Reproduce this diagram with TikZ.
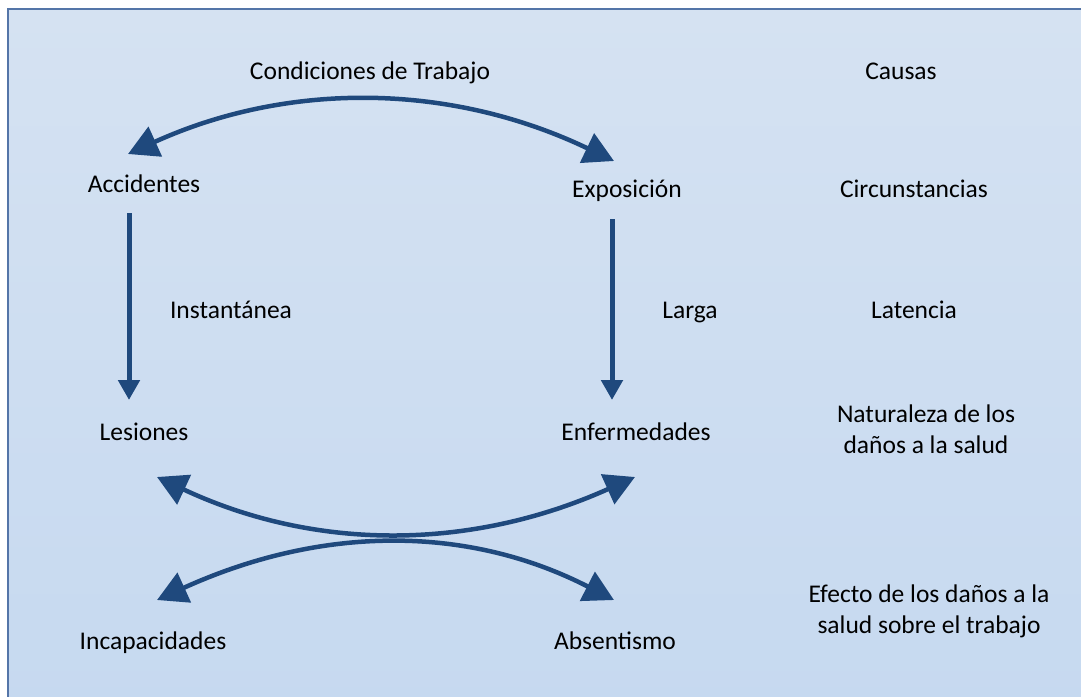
\documentclass[tikz,border=0pt]{standalone}
\usepackage{fontspec}
\setmainfont{Carlito}
\usetikzlibrary{arrows.meta}

\definecolor{arrowblue}{RGB}{31,73,125}
\definecolor{framecol}{RGB}{84,117,168}
\definecolor{bgtop}{RGB}{213,226,242}
\definecolor{bgbottom}{RGB}{198,217,240}

\tikzset{
  lbl/.style={anchor=base, inner sep=0pt, font=\fontsize{25.5}{31}\selectfont},
  lbltwo/.style={lbl, align=center},
  bendarrow/.style={draw=arrowblue, line width=4.5pt,
    {Triangle[length=30pt,width=32pt]}-{Triangle[length=30pt,width=32pt]}},
  downarrow/.style={draw=arrowblue, line width=5pt,
    -{Triangle[length=20pt,width=21pt]}}
}

\begin{document}
\begin{tikzpicture}[x=1pt, y=-1pt]
  \useasboundingbox (0,0) rectangle (1081,696);
  \clip (0,0) rectangle (1081,696);
  % Background panel
  \shade[top color=bgtop, bottom color=bgbottom] (8,9) rectangle (1095,710);
  \draw[framecol, line width=1.5pt] (8,710) -- (8,9) -- (1095,9);

  % Define nodes
  \node[lbl] (cond) at (370,79) {Condiciones de Trabajo};
  \node[lbl] (causas) at (901,79) {Causas};
  \node[lbl] (acc) at (144,192) {Accidentes};
  \node[lbl] (expo) at (627,197) {Exposición};
  \node[lbl] (circ) at (914,197) {Circunstancias};
  \node[lbl] (inst) at (231,318) {Instantánea};
  \node[lbl] (larga) at (690,318) {Larga};
  \node[lbl] (lat) at (914,318) {Latencia};
  \node[lbl] (les) at (144,440) {Lesiones};
  \node[lbl] (enf) at (636,440) {Enfermedades};
  \node[lbltwo] (nat) at (926,453) {Naturaleza de los\\daños a la salud};
  \node[lbl] (incap) at (153,649) {Incapacidades};
  \node[lbl] (abs) at (615,649) {Absentismo};
  \node[lbltwo] (efec) at (929,633) {Efecto de los daños a la\\salud sobre el trabajo};

  % Arrow ends
  \coordinate (accin) at (128,154);
  \coordinate (expoin) at (614,161);
  \coordinate (accout) at (129,213);
  \coordinate (lesin) at (129,400);
  \coordinate (expoout) at (612,219);
  \coordinate (enfin) at (612,400);
  \coordinate (lesup) at (157,477);
  \coordinate (enfup) at (635,477);
  \coordinate (incapin) at (157,600);
  \coordinate (absin) at (614,600);

  % Connect the nodes
  \path[bendarrow] (accin) .. controls (289,81) and (451,83) .. (expoin);
  \path[downarrow] (accout) -- (lesin);
  \path[downarrow] (expoout) -- (enfin);
  \path[bendarrow] (lesup) .. controls (315,551) and (470,551) .. (enfup);
  \path[bendarrow] (incapin) .. controls (322,525) and (468,525) .. (absin);

\end{tikzpicture}
\end{document}
